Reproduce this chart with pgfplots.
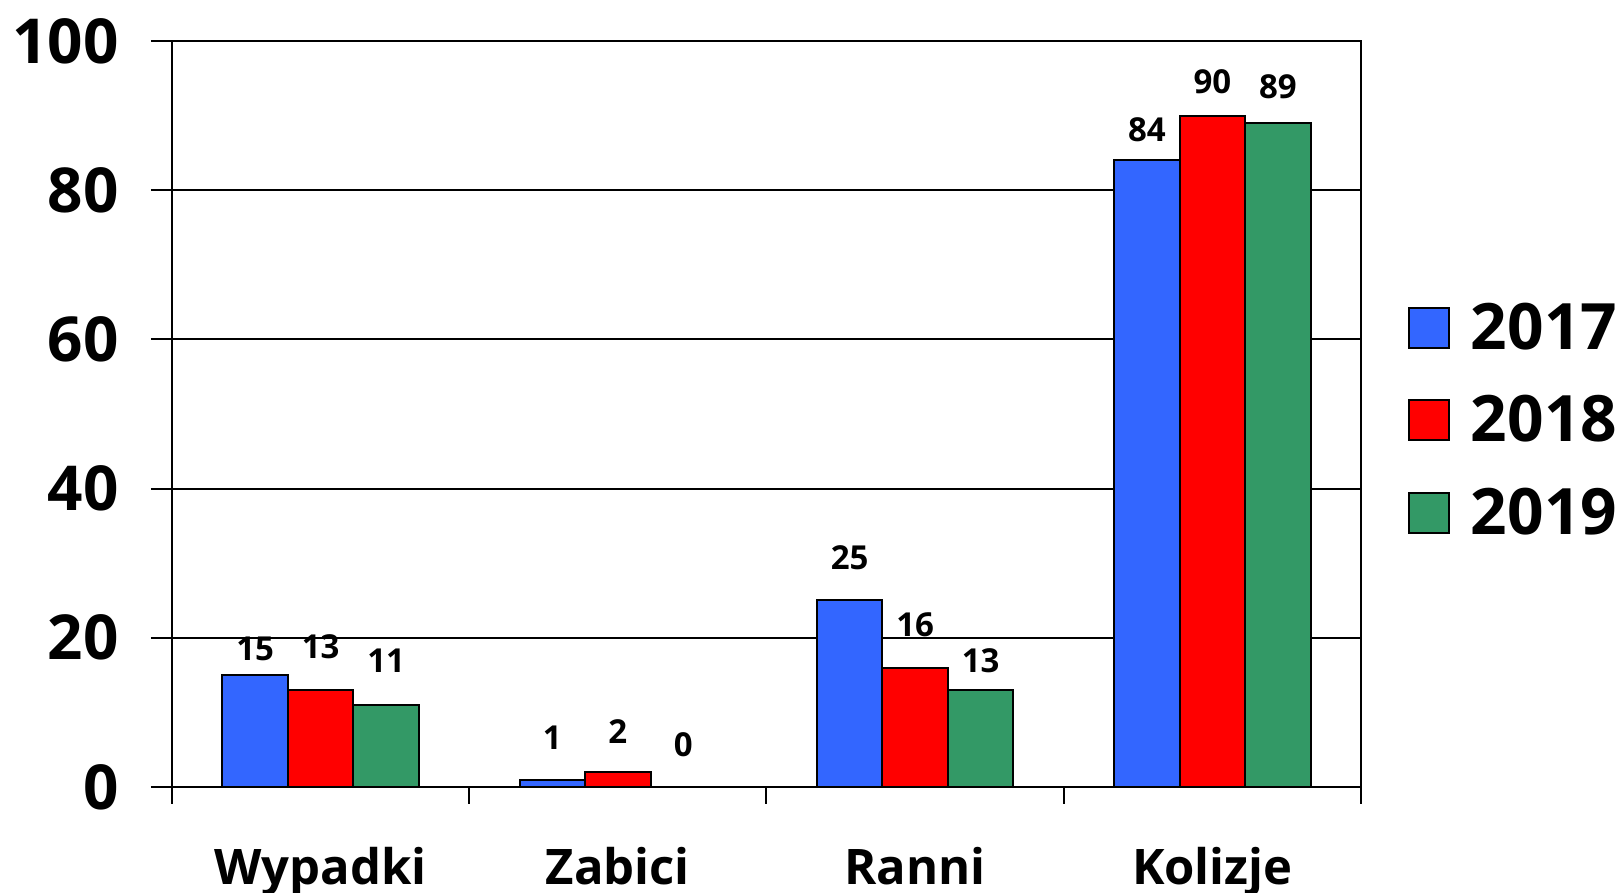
\documentclass[border=0pt]{standalone}
\usepackage{fontspec}
\setmainfont{Open Sans}
\usepackage{pgfplots}
\usepackage{pgfplotstable}
\pgfplotsset{compat=1.18}
\definecolor{cblue}{HTML}{3366FF}
\definecolor{cred}{HTML}{FF0000}
\definecolor{cgreen}{HTML}{339966}
\pgfplotstableread{
x y off
0 15 7.5
1 1 15
2 25 15.5
3 84 9.5
}\tA
\pgfplotstableread{
x y off
0 13 16
1 2 14.5
2 16 15.5
3 90 11
}\tB
\pgfplotstableread{
x y off
0 11 16
1 0 15
2 13 9
3 89 12.5
}\tC
\begin{document}
\begin{tikzpicture}
\begin{axis}[
  at={(0,0)}, anchor=south west,
  scale only axis, width=594.5pt, height=373pt,
  xmin=-0.5, xmax=3.5, ymin=0, ymax=100,
  ybar=0pt, bar width=32.75pt,
  xtick={0,1,2,3}, xticklabels={Wypadki,Zabici,Ranni,Kolizje},
  minor xtick={-0.5,0.5,1.5,2.5,3.5},
  ytick={0,20,40,60,80,100},
  tick align=outside, xtick pos=lower, ytick pos=left,
  major tick length=10.5pt, minor tick length=8.5pt,
  major x tick style={draw=none},
  tick style={line width=1pt, black},
  axis line style={line width=1pt},
  ymajorgrids, major grid style={line width=1pt, black},
  /pgf/number format/assume math mode=true,
  yticklabel style={font=\fontsize{31}{31}\selectfont\bfseries, anchor=east, inner sep=0pt, xshift=-16pt},
  xticklabel style={font=\fontsize{24.5}{24.5}\selectfont\bfseries, anchor=base, inner sep=0pt, yshift=-38.5pt},
  every axis plot/.append style={draw=black, line width=1pt},
  nodes near coords,
  every node near coord/.append style={font=\fontsize{16.5}{16.5}\selectfont\bfseries, anchor=base, inner sep=0pt, yshift=\myoff*1pt, black},
  legend image code/.code={\draw[#1, line width=1pt] (0pt,-10pt) rectangle (20pt,10pt);},
  legend cell align=left,
  legend style={at={(1.0395,0.6488)}, anchor=north west, draw=none, fill=none, inner sep=0pt, outer sep=0pt,
    font=\fontsize{32}{32}\selectfont\bfseries, nodes={inner sep=0pt}, row sep=21.5pt,
    /tikz/every odd column/.style={column sep=10.5pt}},
]
\addplot[fill=cblue, visualization depends on={\thisrow{off}\as\myoff}] table[x=x,y=y] {\tA};
\addplot[fill=cred, visualization depends on={\thisrow{off}\as\myoff}] table[x=x,y=y] {\tB};
\addplot[fill=cgreen, visualization depends on={\thisrow{off}\as\myoff}] table[x=x,y=y] {\tC};
\legend{2017,2018,2019}
\end{axis}
\pgfresetboundingbox
\useasboundingbox (-86pt,-53pt) rectangle (723pt,393.5pt);
\end{tikzpicture}
\end{document}
